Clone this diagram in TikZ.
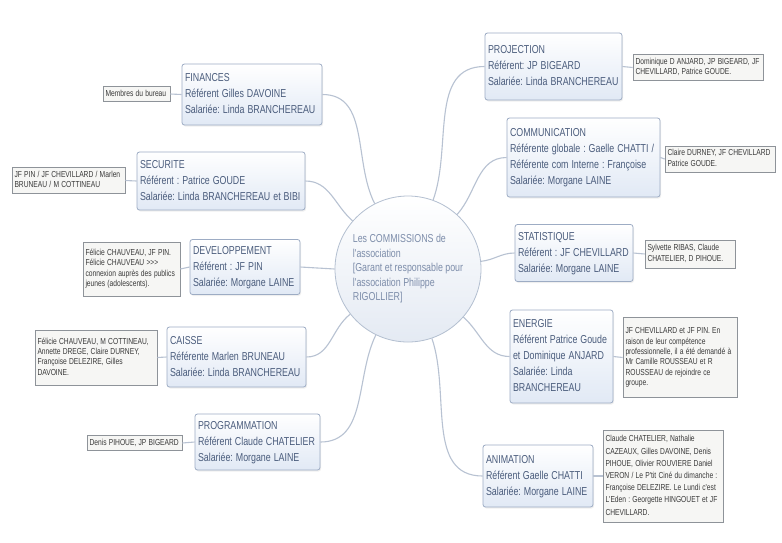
\documentclass[tikz,border=0pt]{standalone}
\usepackage{fontspec}
\newfontfamily\mapfont{Liberation Sans}
\usetikzlibrary{shadows}
\definecolor{boxline}{HTML}{9DACC4}
\definecolor{boxfill}{HTML}{E1E9F5}
\definecolor{boxtext}{HTML}{4A5C7C}
\definecolor{notefill}{HTML}{F6F6F4}
\definecolor{noteline}{HTML}{8E9399}
\definecolor{notetext}{HTML}{3A3A3A}
\definecolor{linkline}{HTML}{B8C2D2}
\definecolor{hubfill}{HTML}{E4EAF3}
\definecolor{hubline}{HTML}{B3BFD0}
\definecolor{hubtext}{HTML}{7D8DAA}

% narrow lines of text, as in the map
\newcommand\squeezed[1]{\scalebox{0.77}[1]{\begin{tabular}{@{}l@{}}#1\end{tabular}}}

\tikzset{
  commission/.style={draw=boxline, line width=0.8pt, rounded corners=2.5pt,
    top color=white, bottom color=boxfill, text=boxtext, align=left, inner sep=3pt,
    font=\mapfont\frenchspacing\fontsize{11.5}{16}\selectfont,
    drop shadow={opacity=0.12, shadow xshift=1pt, shadow yshift=-1.5pt}},
  members/.style={draw=noteline, line width=0.6pt, fill=notefill, text=notetext,
    align=left, inner sep=2.5pt, font=\mapfont\frenchspacing\fontsize{8.7}{10.3}\selectfont},
  link/.style={draw=linkline, line width=1.1pt},
}

\begin{document}
\begin{tikzpicture}[x=1pt,y=1pt]
\useasboundingbox[fill=white] (0,0) rectangle (782,-542);

% centre
\node[circle, draw=hubline, line width=0.8pt, top color=white, bottom color=hubfill,
  minimum size=146pt, inner sep=0pt, text=hubtext,
  font=\mapfont\frenchspacing\fontsize{11.5}{14.5}\selectfont] (hub) at (408,-269)
  {\squeezed{Les COMMISSIONS de\\l'association\\{[}Garant et responsable pour\\l'association Philippe\\RIGOLLIER]}};

% commissions, left side
\node[commission, text width=134pt, minimum height=61pt] (fin) at (252,-94.5)
  {\squeezed{FINANCES\\Référent Gilles DAVOINE\\Salariée: Linda BRANCHEREAU}};
\node[commission, text width=162pt, minimum height=58pt] (sec) at (221,-181)
  {\squeezed{SECURITE\\Référent : Patrice GOUDE\\Salariée: Linda BRANCHEREAU et BIBI}};
\node[commission, text width=104pt, minimum height=55pt] (dev) at (245,-267)
  {\squeezed{DEVELOPPEMENT\\Référent : JF PIN\\Salariée: Morgane LAINE}};
\node[commission, text width=133pt, minimum height=60pt] (cai) at (236.5,-357)
  {\squeezed{CAISSE\\Référente Marlen BRUNEAU\\Salariée: Linda BRANCHEREAU}};
\node[commission, text width=119pt, minimum height=56pt] (prg) at (257.5,-442)
  {\squeezed{PROGRAMMATION\\Référent Claude CHATELIER\\Salariée: Morgane LAINE}};

% commissions, right side
\node[commission, text width=131pt, minimum height=67pt] (prj) at (553.5,-66.5)
  {\squeezed{PROJECTION\\Référent: JP BIGEARD\\Salariée: Linda BRANCHEREAU}};
\node[commission, text width=147pt, minimum height=79pt] (com) at (583.5,-157.5)
  {\squeezed{COMMUNICATION\\Référente globale : Gaelle CHATTI /\\Référente com Interne : Françoise\\Salariée: Morgane LAINE}};
\node[commission, text width=112pt, minimum height=57pt] (sta) at (574,-253)
  {\squeezed{STATISTIQUE\\Référent : JF CHEVILLARD\\Salariée: Morgane LAINE}};
\node[commission, text width=97pt, minimum height=93pt] (ene) at (561.5,-356.5)
  {\squeezed{ENERGIE\\Référent Patrice Goude\\et Dominique ANJARD\\Salariée: Linda\\BRANCHEREAU}};
\node[commission, text width=104pt, minimum height=62pt] (ani) at (538,-476)
  {\squeezed{ANIMATION\\Référent Gaelle CHATTI\\Salariée: Morgane LAINE}};

% members
\node[members, text width=62pt, minimum height=12pt] (finM) at (136.5,-94)
  {\squeezed{Membres du bureau}};
\node[members, text width=108pt, minimum height=25pt] (secM) at (68.5,-180.5)
  {\squeezed{JF PIN / JF CHEVILLARD / Marlen\\BRUNEAU / M COTTINEAU}};
\node[members, text width=92pt, minimum height=54pt] (devM) at (131.5,-269)
  {\squeezed{Félicie CHAUVEAU, JF PIN.\\Félicie CHAUVEAU >>>\\connexion auprès des publics\\jeunes (adolescents).}};
\node[members, text width=117pt, minimum height=55pt] (caiM) at (96,-357.5)
  {\squeezed{Félicie CHAUVEAU, M COTTINEAU,\\Annette DREGE, Claire DURNEY,\\Françoise DELEZIRE, Gilles\\DAVOINE.}};
\node[members, text width=90pt, minimum height=12pt] (prgM) at (134.5,-443)
  {\squeezed{Denis PIHOUE, JP BIGEARD}};
\node[members, text width=125pt, minimum height=23pt] (prjM) at (698,-67.5)
  {\squeezed{Dominique D ANJARD, JP BIGEARD, JF\\CHEVILLARD, Patrice GOUDE.}};
\node[members, text width=105pt, minimum height=25pt] (comM) at (720,-159)
  {\squeezed{Claire DURNEY, JF CHEVILLARD\\Patrice GOUDE.}};
\node[members, text width=85pt, minimum height=28pt] (staM) at (690,-254)
  {\squeezed{Sylvette RIBAS, Claude\\CHATELIER, D PIHOUE.}};
\node[members, text width=109pt, minimum height=80pt] (eneM) at (680,-357.5)
  {\squeezed{JF CHEVILLARD et JF PIN. En\\raison de leur compétence\\professionnelle, il a été demandé à\\Mr Camille ROUSSEAU et R\\ROUSSEAU de rejoindre ce\\groupe.}};
\node[members, text width=115pt, minimum height=92pt,
  font=\mapfont\frenchspacing\fontsize{8.7}{12.2}\selectfont] (aniM) at (663,-476)
  {\squeezed{Claude CHATELIER, Nathalie\\CAZEAUX, Gilles DAVOINE, Denis\\PIHOUE, Olivier ROUVIERE Daniel\\VERON / Le P'tit Ciné du dimanche :\\Françoise DELEZIRE. Le Lundi c'est\\L'Eden : Georgette HINGOUET et JF\\CHEVILLARD.}};

% links to the centre
\foreach \c/\ang in {fin/117, sec/139, cai/218, prg/244}
  \draw[link] (\c.east) to[out=0,in=\ang] (hub.\ang);
\draw[link] (dev.east) -- (hub.west);
\foreach \c/\ang in {prj/70, com/48, sta/6, ene/-41, ani/-71}
  \draw[link] (hub.\ang) to[out=\ang,in=180] (\c.west);

% links to the members
\foreach \c in {fin, sec, dev, cai, prg}
  \draw[link] (\c.west) -- (\c M.east);
\foreach \c in {prj, com, sta, ene, ani}
  \draw[link] (\c.east) -- (\c M.west);
\end{tikzpicture}
\end{document}
